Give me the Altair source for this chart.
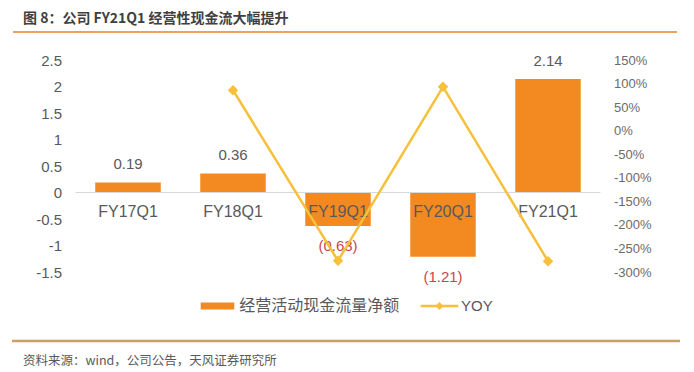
import altair as alt
import pandas as pd

# ---- data ----
categories = ["FY17Q1", "FY18Q1", "FY19Q1", "FY20Q1", "FY21Q1"]
cash_flow = [0.19, 0.36, -0.63, -1.21, 2.14]
value_labels = ["0.19", "0.36", "(0.63)", "(1.21)", "2.14"]
yoy_categories = ["FY18Q1", "FY19Q1", "FY20Q1", "FY21Q1"]
yoy_pct = [86, -276, 93, -277]
left_ticks = [-1.5, -1, -0.5, 0, 0.5, 1, 1.5, 2, 2.5]
right_ticks = [-300, -250, -200, -150, -100, -50, 0, 50, 100, 150]

TITLE = "图 8：公司 FY21Q1 经营性现金流大幅提升"
SOURCE = "资料来源：wind，公司公告，天风证券研究所"
LEGEND_BAR = "经营活动现金流量净额"
LEGEND_LINE = "YOY"

# ---- style ----
BAR = "#f38a21"
LINE = "#f6c03a"
GREY = "#595959"
RED = "#c8474d"
CJK = "Noto Sans CJK SC"
LAT = "Liberation Sans"

W, H = 525, 212

df = pd.DataFrame({"cat": categories, "value": cash_flow, "label": value_labels})
df["zero"] = 0
line_df = pd.DataFrame({"cat": yoy_categories, "yoy": yoy_pct})
one = pd.DataFrame({"k": [0]})

xenc = alt.X("cat:N", sort=categories,
             scale=alt.Scale(domain=categories, paddingInner=0.376, paddingOuter=0.188),
             axis=None)
ysc = alt.Scale(domain=[-1.5, 2.5], nice=False, zero=False)
ysc2 = alt.Scale(domain=[-300, 150], nice=False, zero=False)

left_axis = alt.Axis(values=left_ticks, labelExpr="datum.value + ''", title=None,
                     domain=False, ticks=False, grid=False, labelPadding=14,
                     labelFontSize=15, labelColor=GREY, labelFont=LAT)
right_axis = alt.Axis(orient="right", values=right_ticks, labelExpr="datum.value + '%'",
                      title=None, domain=False, ticks=False, grid=False, labelPadding=13,
                      labelFontSize=13, labelColor="#6b6b6b", labelFont=LAT)

base = alt.Chart(df)

bars = base.mark_bar(color=BAR).encode(
    x=xenc, y=alt.Y("value:Q", scale=ysc, axis=left_axis, title=None)
)
zero_rule = alt.Chart(one).mark_rule(color="#d9d9d9", strokeWidth=1.2).encode(
    y=alt.Y("k:Q", scale=ysc, axis=left_axis, title=None), x=alt.value(0), x2=alt.value(W)
)
pos_lbl = base.transform_filter("datum.value >= 0").mark_text(
    dy=-18, fontSize=15, color=GREY, font=LAT, baseline="middle"
).encode(x=xenc, y=alt.Y("value:Q", scale=ysc, axis=left_axis, title=None), text="label:N")
neg_lbl = base.transform_filter("datum.value < 0").mark_text(
    dy=20, fontSize=15, color=RED, font=LAT, baseline="middle"
).encode(x=xenc, y=alt.Y("value:Q", scale=ysc, axis=left_axis, title=None), text="label:N")
cat_lbl = base.mark_text(dy=19, fontSize=16, color=GREY, font=LAT, baseline="middle").encode(
    x=xenc, y=alt.Y("zero:Q", scale=ysc, axis=left_axis, title=None), text="cat:N"
)

left = alt.layer(bars, zero_rule, pos_lbl, neg_lbl, cat_lbl)

lbase = alt.Chart(line_df)
line = lbase.mark_line(color=LINE, strokeWidth=2.5).encode(
    x=xenc, y=alt.Y("yoy:Q", scale=ysc2, axis=right_axis, title=None))
pts = lbase.mark_point(shape="diamond", filled=True, size=110, color=LINE, opacity=1).encode(
    x=xenc, y=alt.Y("yoy:Q", scale=ysc2, axis=right_axis, title=None)
)
right = alt.layer(line, pts)

# decorations (title, separators, legend, source)
oc = alt.Chart(one)
top_rule = oc.mark_rule(color="#eaa264", strokeWidth=2).encode(
    x=alt.value(-62.5), x2=alt.value(601.5), y=alt.value(-28))
foot_rule = oc.mark_rule(color="#c9a063", strokeWidth=2.5).encode(
    x=alt.value(-63.5), x2=alt.value(604.5), y=alt.value(281))
title = oc.mark_text(align="left", baseline="middle", fontSize=14, fontWeight="bold",
                     color="#404040", font=CJK).encode(
    x=alt.value(-52.5), y=alt.value(-41.5), text=alt.value(TITLE))
source = oc.mark_text(align="left", baseline="middle", fontSize=12.5, color=GREY, font=CJK).encode(
    x=alt.value(-52.5), y=alt.value(301), text=alt.value(SOURCE))
leg_rect = oc.mark_rect(color=BAR).encode(
    x=alt.value(125.2), x2=alt.value(158.8), y=alt.value(242.5), y2=alt.value(249.5))
leg_text1 = oc.mark_text(align="left", baseline="middle", fontSize=16, color=GREY, font=CJK).encode(
    x=alt.value(163.8), y=alt.value(246), text=alt.value(LEGEND_BAR))
leg_line = oc.mark_rule(color=LINE, strokeWidth=2.5).encode(
    x=alt.value(345.2), x2=alt.value(382.8), y=alt.value(246))
leg_pt = oc.mark_point(shape="diamond", filled=True, size=64, color=LINE, opacity=1).encode(
    x=alt.value(364), y=alt.value(246))
leg_text2 = oc.mark_text(align="left", baseline="middle", fontSize=15, color=GREY, font=LAT).encode(
    x=alt.value(385.5), y=alt.value(246), text=alt.value(LEGEND_LINE))

chart = alt.layer(
    left, right, top_rule, foot_rule, title, source,
    leg_rect, leg_text1, leg_line, leg_pt, leg_text2
).resolve_scale(y="independent").properties(
    width=W, height=H,
    autosize=alt.AutoSizeParams(type="none"),
    padding={"left": 67.5, "top": 52, "right": 85, "bottom": 100},
    background="white",
).configure_view(stroke=None)

chart.save("out.html", embed_options={"renderer": "svg", "actions": False})
